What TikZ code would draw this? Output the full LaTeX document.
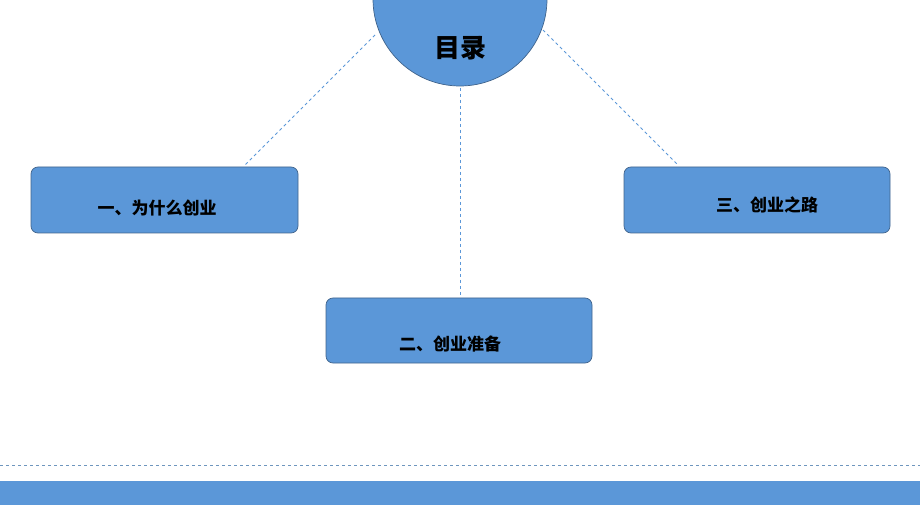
\documentclass[tikz,border=0pt]{standalone}
\usepackage{fontspec}
\newfontfamily\cjk{Noto Sans CJK SC}
\begin{document}
\begin{tikzpicture}[x=1pt,y=-1pt,
  fillc/.style={fill={rgb,255:red,91;green,151;blue,216}},
  boxs/.style={fillc,draw={rgb,255:red,65;green,100;blue,140},rounded corners=7pt,line width=0.7pt},
  conn/.style={draw={rgb,255:red,91;green,151;blue,216},dashed,line width=1pt}]
\useasboundingbox (0,0) rectangle (920,518);
\clip (0,0) rectangle (920,518);
\draw[boxs] (31,167) rectangle (298,233);
\node[font=\cjk\bfseries\fontsize{17}{20}\selectfont] (b1) at (157,208) {一、为什么创业};
\coordinate (b1t) at (245,165);
\draw[boxs] (624,167) rectangle (890,233);
\node[font=\cjk\bfseries\fontsize{17}{20}\selectfont] (b3) at (767,205) {三、创业之路};
\coordinate (b3t) at (678,165);
\draw[boxs] (326,298) rectangle (592,363);
\node[font=\cjk\bfseries\fontsize{17}{20}\selectfont] (b2) at (450,344) {二、创业准备};
\coordinate (b2t) at (460,296);
\draw[fillc,draw={rgb,255:red,65;green,100;blue,140},line width=0.7pt] (460,-1) circle (87);
\node[font=\cjk\bfseries\fontsize{26}{30}\selectfont] (c) at (460,48) {目录};
\coordinate (c1) at (375,35);
\coordinate (c2) at (460,88);
\coordinate (c3) at (543,30);
\draw[conn] (c1) -- (b1t);
\draw[conn] (c2) -- (b2t);
\draw[conn] (c3) -- (b3t);
\draw[draw={rgb,255:red,110;green,150;blue,190},dashed,line width=0.8pt] (0,465) -- (920,465);
\fill[fillc] (0,481) rectangle (920,505);
\end{tikzpicture}
\end{document}
